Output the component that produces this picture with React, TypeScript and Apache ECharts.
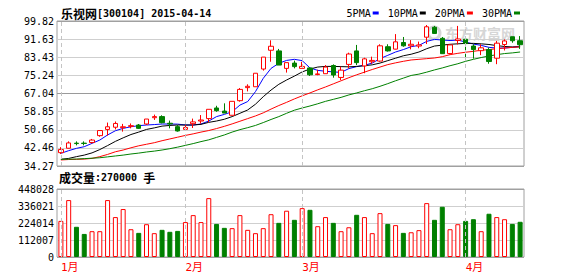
import React, { useEffect, useRef } from "react";
import * as echarts from "echarts";

const dates = [
  "2015-01-09","2015-01-12","2015-01-13","2015-01-14","2015-01-15","2015-01-16","2015-01-19","2015-01-20","2015-01-21","2015-01-22","2015-01-23","2015-01-26","2015-01-27","2015-01-28","2015-01-29","2015-01-30",
  "2015-02-02","2015-02-03","2015-02-04","2015-02-05","2015-02-06","2015-02-09","2015-02-10","2015-02-11","2015-02-12","2015-02-13","2015-02-16","2015-02-17","2015-02-25","2015-02-26","2015-02-27",
  "2015-03-02","2015-03-03","2015-03-04","2015-03-05","2015-03-06","2015-03-09","2015-03-10","2015-03-11","2015-03-12","2015-03-13","2015-03-16","2015-03-17","2015-03-18","2015-03-19","2015-03-20","2015-03-23","2015-03-24","2015-03-25","2015-03-26","2015-03-27","2015-03-30",
  "2015-04-01","2015-04-02","2015-04-03","2015-04-07","2015-04-08","2015-04-09","2015-04-10","2015-04-14"
];

// [open, close, low, high]
const candles: number[][] = [
  [40.3, 41.7, 39.7, 42.8], [42.3, 44.7, 42.2, 45.4], [44.6, 44.4, 43.6, 45.4], [44.6, 44.45, 43.6, 45.4],
  [44.9, 46.0, 44.4, 46.5], [48.0, 50.3, 47.5, 50.4], [50.8, 52.0, 48.0, 53.9], [51.8, 53.5, 50.8, 54.4],
  [51.6, 52.0, 49.8, 53.3], [52.2, 52.5, 51.3, 53.5], [52.8, 51.3, 51.0, 53.25], [53.25, 55.5, 52.8, 55.5],
  [56.1, 56.6, 55.1, 57.5], [56.6, 53.85, 53.55, 57.2], [53.6, 53.3, 51.3, 54.8], [52.05, 50.1, 49.8, 52.8],
  [50.84, 51.7, 50.5, 52.8], [53.4, 54.2, 51.45, 55.7], [54.6, 55.06, 53.4, 57.3], [55.7, 59.9, 54.0, 59.9],
  [60.5, 59.3, 58.8, 61.5], [59.1, 58.2, 58.2, 62.6], [57.2, 63.5, 57.2, 63.5], [63.8, 68.9, 63.35, 69.5],
  [69.7, 70.3, 68.0, 71.2], [70.1, 76.2, 70.1, 76.2], [78.1, 83.5, 77.4, 83.5], [86.6, 88.4, 81.4, 91.1],
  [86.3, 79.9, 79.9, 87.2], [78.4, 81.0, 76.5, 81.0], [80.8, 79.2, 78.4, 81.9], [78.4, 79.3, 78.4, 81.4],
  [78.6, 75.5, 74.95, 78.9], [75.6, 75.9, 75.3, 77.8], [76.0, 79.0, 76.0, 79.9], [79.7, 75.4, 74.2, 80.2],
  [74.3, 77.6, 73.15, 79.2], [80.2, 84.9, 78.4, 85.5], [86.3, 81.0, 79.9, 89.0], [79.5, 82.7, 76.2, 83.2],
  [81.4, 82.0, 80.5, 83.7], [81.7, 88.6, 81.4, 89.3], [88.2, 86.3, 86.0, 89.3], [87.1, 90.4, 87.0, 93.9],
  [90.1, 88.6, 88.2, 92.6], [88.6, 89.3, 87.0, 91.2], [88.5, 89.0, 87.5, 90.5], [92.5, 97.2, 89.4, 98.0],
  [97.0, 94.2, 94.0, 97.6], [92.0, 85.05, 85.0, 92.6], [85.1, 89.0, 84.75, 89.3], [91.0, 91.7, 89.2, 97.6],
  [91.6, 89.6, 83.5, 93.0], [88.5, 86.9, 82.8, 89.3], [86.4, 87.7, 84.4, 89.3], [86.9, 81.5, 80.5, 87.8],
  [83.0, 89.8, 80.3, 90.8], [89.2, 90.8, 86.5, 91.5], [92.7, 90.9, 90.0, 92.7], [90.9, 89.1, 87.2, 93.0]
];

const volumes = [
  238000, 375000, 199000, 152000, 170000, 170000, 375000, 263000, 316000, 183000,
  159000, 216000, 157000, 179000, 166000, 172000, 230000, 276000, 230000, 388000,
  218000, 192000, 190000, 276000, 179000, 157000, 190000, 282000, 225000, 305000,
  245000, 322000, 311000, 203000, 263000, 225000, 170000, 196000, 278000, 263000,
  157000, 289000, 218000, 210000, 159000, 163000, 177000, 355000, 245000, 331000,
  183000, 216000, 238000, 249000, 170000, 285000, 263000, 249000, 218000, 232000
];

const ma5 = [
  40.0, 41.2, 42.25, 43.0, 44.5, 46.0, 48.3, 50.2, 51.3, 52.0,
  52.5, 52.8, 53.0, 53.25, 53.25, 53.2, 52.8, 52.8, 53.25, 54.6,
  56.6, 57.6, 58.8, 61.8, 63.4, 67.9, 73.9, 78.4, 80.7, 82.0,
  82.5, 81.9, 78.6, 77.5, 77.1, 76.8, 76.6, 78.3, 79.2, 79.8,
  80.8, 82.8, 84.3, 85.8, 86.9, 88.2, 88.8, 90.6, 91.5, 91.2,
  91.0, 91.2, 90.3, 89.4, 88.8, 87.9, 87.6, 87.6, 87.9, 88.5
];
const ma10 = [
  37.3, 37.7, 38.5, 39.2, 40.2, 41.7, 43.5, 45.4, 47.0, 48.5,
  49.6, 50.8, 51.5, 52.3, 52.6, 52.8, 52.8, 52.8, 53.1, 54.0,
  54.6, 55.4, 56.6, 58.1, 59.6, 62.2, 65.6, 68.6, 71.2, 73.15,
  74.9, 76.8, 78.1, 79.0, 79.3, 79.3, 79.2, 79.1, 79.3, 79.6,
  80.0, 80.8, 81.9, 83.0, 84.1, 84.8, 85.8, 87.3, 88.5, 88.9,
  89.3, 89.5, 89.7, 89.7, 89.5, 89.2, 88.7, 88.3, 88.1, 88.1
];
const ma20 = [
  37.0, 37.2, 37.3, 37.4, 37.7, 38.5, 39.5, 40.7, 41.5, 42.5,
  43.4, 44.1, 44.8, 45.7, 46.5, 47.3, 48.1, 48.8, 49.6, 50.3,
  51.2, 52.2, 53.3, 54.5, 55.7, 56.9, 58.3, 60.0, 61.6, 63.05,
  64.6, 66.0, 67.3, 68.7, 70.0, 71.4, 72.8, 74.2, 75.5, 76.7,
  77.9, 79.0, 80.1, 80.9, 81.6, 82.2, 82.5, 82.8, 83.1, 83.7,
  84.6, 85.2, 85.7, 86.1, 86.6, 86.9, 87.3, 87.6, 87.9, 88.2
];
const ma30 = [
  37.3, 37.35, 37.4, 37.6, 37.8, 38.0, 38.4, 38.8, 39.2, 39.7,
  40.1, 40.6, 41.0, 41.5, 42.1, 42.8, 43.6, 44.4, 45.3, 46.1,
  47.2, 48.3, 49.6, 50.7, 51.6, 52.6, 53.9, 55.3, 56.6, 58.1,
  59.5, 60.5, 61.4, 62.4, 63.5, 64.4, 65.3, 66.4, 67.3, 68.3,
  69.2, 70.3, 71.5, 72.8, 74.0, 75.2, 75.8, 76.7, 77.7, 78.6,
  79.6, 80.5, 81.6, 82.5, 83.3, 84.0, 84.6, 85.1, 85.4, 85.8
];

const priceTicks = ["34.27", "42.46", "50.66", "58.85", "67.04", "75.24", "83.43", "91.63", "99.82"];
const priceMin = 34.27;
const priceMax = 99.82;
const volumeTicks = [0, 112007, 224014, 336021, 448028];
const monthStarts = [0, 16, 31, 52];
const monthLabels = ["1月", "2月", "3月", "4月"];
const maNames = ["5PMA", "10PMA", "20PMA", "30PMA"];
const maColors = ["#0000ff", "#000000", "#ff0000", "#008000"];
const stockName = "乐视网";
const stockInfo = "[300104] 2015-04-14";
const volumeCaption = ["成交量", ":270000 ", "手"];
const watermark = "东方财富网";

const MONO = "'DejaVu Sans Mono', 'Noto Sans CJK SC', monospace";
const CJK = "'Noto Sans CJK SC', sans-serif";
const UP = "#ff0000";
const DOWN = "#008000";
const FRAME = "#a0a0a0";
const GRIDC = "#cfcfcf";

export default function App() {
  const ref = useRef<HTMLDivElement>(null);
  useEffect(() => {
    if (!ref.current) return;
    const chart = echarts.init(ref.current, undefined, { renderer: "svg" });
    const maSeries = [ma5, ma10, ma20, ma30].map((d, k) => ({
      name: maNames[k],
      type: "line",
      xAxisIndex: 0,
      yAxisIndex: 0,
      data: d,
      symbol: "none",
      lineStyle: { width: 1, color: maColors[k] },
      itemStyle: { color: maColors[k] },
      z: 2,
      silent: true,
    }));
    const monthLine = {
      symbol: ["none", "none"],
      silent: true,
      label: { show: false },
      lineStyle: { type: [4, 3], color: "#c4c4c4", width: 1 },
      data: monthStarts.map((i) => ({ xAxis: dates[i] })),
    };
    const volData = volumes.map((v, i) => {
      const up = candles[i][1] >= candles[i][0];
      return {
        value: v,
        itemStyle: up
          ? { color: "#ffffff", borderColor: UP, borderWidth: 1 }
          : { color: DOWN, borderColor: DOWN, borderWidth: 1 },
      };
    });
    const priceLineColors = priceTicks.map((_, i) =>
      i === 0 || i === priceTicks.length - 1 ? FRAME : i === 4 ? "#9a9a9a" : GRIDC
    );
    const volLineColors = volumeTicks.map((_, i) =>
      i === 0 || i === volumeTicks.length - 1 ? FRAME : GRIDC
    );
    const option: any = {
      animation: false,
      backgroundColor: "#ffffff",
      title: [
        {
          text: `{c|${stockName}}{a|${stockInfo}}`,
          left: 61,
          top: 7,
          padding: 0,
          textStyle: {
            rich: {
              c: { fontFamily: CJK, fontSize: 12, color: "#000" },
              a: { fontFamily: MONO, fontSize: 10, color: "#000" },
            },
          },
        },
        {
          text: `{c|${volumeCaption[0]}}{a|${volumeCaption[1]}}{c|${volumeCaption[2]}}`,
          left: 59,
          top: 171,
          padding: 0,
          textStyle: {
            rich: {
              c: { fontFamily: CJK, fontSize: 12, color: "#000" },
              a: { fontFamily: MONO, fontSize: 10, color: "#000" },
            },
          },
        },
      ],
      legend: {
        data: maNames,
        right: 58,
        top: 8,
        align: "right",
        icon: "rect",
        itemWidth: 6,
        itemHeight: 3,
        itemGap: 9,
        padding: 0,
        selectedMode: false,
        textStyle: { fontFamily: MONO, fontSize: 10, color: "#000", padding: [0, -3, 0, 0] },
      },
      graphic: [
        {
          type: "text",
          left: 445,
          top: 26,
          z: -10,
          silent: true,
          style: { text: watermark, fill: "#d6d6d6", font: `bold 14px ${CJK}` },
        },
        {
          type: "circle",
          shape: { cx: 434, cy: 33, r: 6 },
          z: -10,
          silent: true,
          style: { fill: "none", stroke: "#d6d6d6", lineWidth: 3 },
        },
      ],
      grid: [
        { left: 57, width: 467, top: 21, height: 145, show: true, borderColor: FRAME, borderWidth: 1, outerBoundsMode: "none" },
        { left: 57, width: 467, top: 189, height: 68, show: true, borderColor: FRAME, borderWidth: 1, outerBoundsMode: "none" },
      ],
      xAxis: [
        {
          type: "category",
          gridIndex: 0,
          data: dates,
          boundaryGap: true,
          axisLine: { show: false },
          axisTick: { show: false },
          axisLabel: { show: false },
          splitLine: { show: false },
        },
        {
          type: "category",
          gridIndex: 1,
          data: dates,
          boundaryGap: true,
          axisLine: { show: false },
          axisTick: { show: false },
          splitLine: { show: false },
          axisLabel: {
            show: true,
            interval: (idx: number) => monthStarts.includes(idx),
            formatter: (_v: string, idx: number) => monthLabels[monthStarts.indexOf(idx)] ?? "",
            color: UP,
            fontFamily: MONO,
            fontSize: 11,
            align: "left",
            margin: 5,
          },
        },
      ],
      yAxis: [
        {
          type: "value",
          gridIndex: 0,
          min: priceMin,
          max: priceMax,
          axisLine: { show: false },
          axisTick: { show: false },
          axisLabel: { show: false },
          splitLine: { show: false },
        },
        {
          type: "value",
          gridIndex: 0,
          min: 0,
          max: priceTicks.length - 1,
          interval: 1,
          position: "left",
          axisLine: { show: false },
          axisTick: { show: false },
          axisLabel: {
            formatter: (v: number) => priceTicks[Math.round(v)],
            fontFamily: MONO,
            fontSize: 10,
            color: "#000",
            margin: 3,
          },
          splitLine: { show: true, lineStyle: { color: priceLineColors, width: 1 } },
        },
        {
          type: "value",
          gridIndex: 1,
          min: volumeTicks[0],
          max: volumeTicks[volumeTicks.length - 1],
          interval: volumeTicks[1] - volumeTicks[0],
          axisLine: { show: false },
          axisTick: { show: false },
          axisLabel: {
            formatter: (v: number) => String(Math.round(v)),
            fontFamily: MONO,
            fontSize: 10,
            color: "#000",
            margin: 3,
            padding: [5, 0, 0, 0],
          },
          splitLine: { show: true, lineStyle: { color: volLineColors, width: 1 } },
        },
      ],
      series: [
        ...maSeries,
        {
          name: "K",
          type: "candlestick",
          xAxisIndex: 0,
          yAxisIndex: 0,
          data: candles,
          barWidth: 5,
          z: 3,
          itemStyle: {
            color: "#ffffff",
            color0: DOWN,
            borderColor: UP,
            borderColor0: DOWN,
            borderWidth: 1,
          },
          markLine: monthLine,
        },
        {
          name: "VOL",
          type: "bar",
          xAxisIndex: 1,
          yAxisIndex: 2,
          data: volData,
          barWidth: 5,
          z: 3,
          markLine: monthLine,
        },
      ],
    };
    chart.setOption(option);
    return () => chart.dispose();
  }, []);
  return (
    <div
      ref={ref}
      style={{ position: "absolute", left: 0, top: 0, width: 578, height: 276, background: "#fff" }}
    />
  );
}
